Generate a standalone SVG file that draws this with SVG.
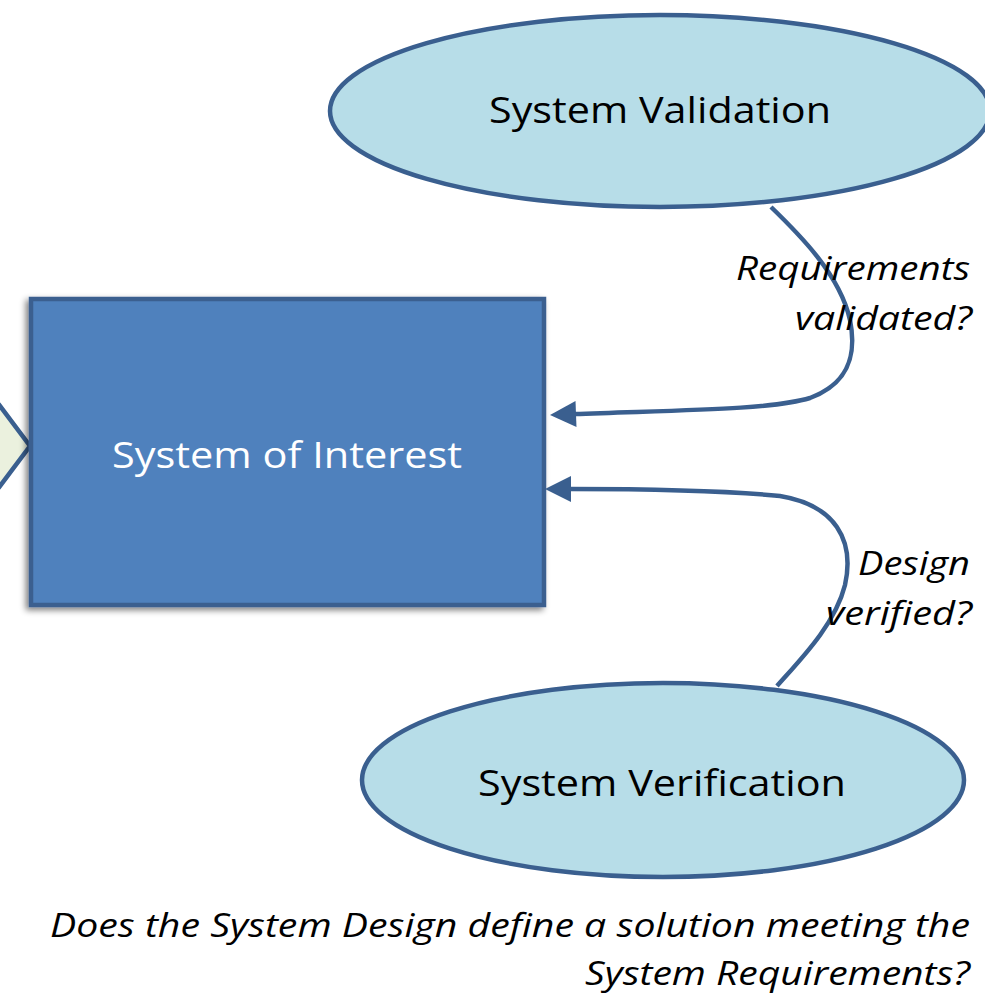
<svg xmlns="http://www.w3.org/2000/svg" width="985" height="995" viewBox="0 0 985 995">
<defs>
<style>
.node{stroke:#3a5f8f;stroke-width:4.5}
.ell{fill:#b7dde8}
.lbl{font-family:"Open Sans","Liberation Sans",sans-serif;fill:#000}
.it{font-family:"Open Sans","Liberation Sans",sans-serif;font-style:italic;fill:#000;font-size:32px}
.conn{fill:none;stroke:#3a5f8f;stroke-width:4.5}
</style>
<marker id="arr" markerUnits="userSpaceOnUse" markerWidth="30" markerHeight="30" viewBox="0 0 30 30" refX="4" refY="15" orient="auto">
<path d="M28,15 L2,2 L2,28 Z" fill="#3a5f8f"/>
</marker>
<filter id="sh" x="-10%" y="-10%" width="120%" height="120%">
<feGaussianBlur in="SourceAlpha" stdDeviation="3"/>
<feOffset dx="-3" dy="3"/>
<feComponentTransfer><feFuncA type="linear" slope="0.5"/></feComponentTransfer>
<feMerge><feMergeNode/><feMergeNode in="SourceGraphic"/></feMerge>
</filter>
</defs>
<rect width="985" height="995" fill="#fff"/>
<g id="input-shape">
<path d="M-40,446 L0,406 L30,446 L0,486 Z" fill="#ebf1de" stroke="#3a5f8f" stroke-width="4.5"/>
</g>
<g id="system-of-interest">
<rect x="31" y="299" width="513" height="306" fill="#4f81bd" class="node" filter="url(#sh)"/>
<text x="287" y="468" class="lbl" font-size="37" style="fill:#fff" text-anchor="middle" textLength="350" lengthAdjust="spacingAndGlyphs">System of Interest</text>
</g>
<g id="system-validation">
<ellipse cx="660" cy="111" rx="330" ry="96" class="node ell"/>
<text x="660" y="123" class="lbl" font-size="37" text-anchor="middle" textLength="342" lengthAdjust="spacingAndGlyphs">System Validation</text>
</g>
<g id="system-verification">
<ellipse cx="663" cy="780" rx="301" ry="97" class="node ell"/>
<text x="662" y="796" class="lbl" font-size="37" text-anchor="middle" textLength="368" lengthAdjust="spacingAndGlyphs">System Verification</text>
</g>
<g id="connectors">
<path class="conn" marker-end="url(#arr)" d="M771,207 C800,235 840,275 850,320 C858,360 845,385 810,398 C770,410 680,410 574,414"/>
<path class="conn" marker-end="url(#arr)" d="M777,686 C800,660 835,625 845,585 C855,540 835,505 780,496 C720,490 640,489 569,489"/>
</g>
<g id="labels">
<text x="970" y="280" class="it" text-anchor="end" textLength="234" lengthAdjust="spacingAndGlyphs">Requirements</text>
<text x="972" y="330" class="it" text-anchor="end" textLength="177" lengthAdjust="spacingAndGlyphs">validated?</text>
<text x="970" y="575" class="it" text-anchor="end" textLength="112" lengthAdjust="spacingAndGlyphs">Design</text>
<text x="972" y="625" class="it" text-anchor="end" textLength="146" lengthAdjust="spacingAndGlyphs">verified?</text>
<text x="970" y="937" class="it" text-anchor="end" textLength="920" lengthAdjust="spacingAndGlyphs">Does the System Design define a solution meeting the</text>
<text x="970" y="985" class="it" text-anchor="end" textLength="385" lengthAdjust="spacingAndGlyphs">System Requirements?</text>
</g>
</svg>
